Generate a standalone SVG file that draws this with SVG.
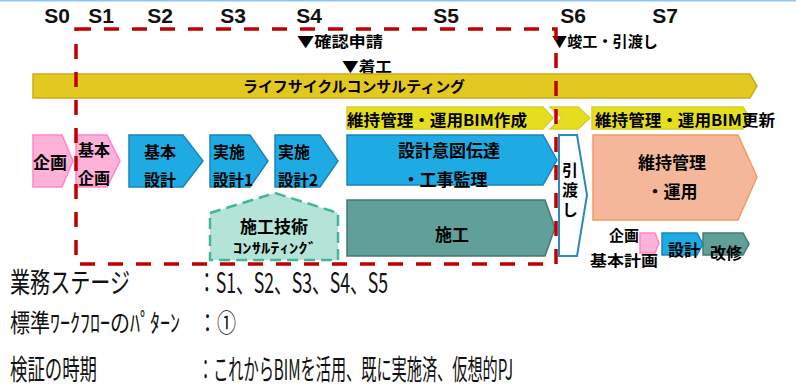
<svg xmlns="http://www.w3.org/2000/svg" width="796" height="390" viewBox="0 0 796 390">
<style>
  .st{font-family:"Liberation Sans",Arial,sans-serif;font-weight:bold;font-size:21px;fill:#111}
  .jb{font-family:"Noto Sans CJK JP",sans-serif;font-weight:bold;fill:#000}
  .jr{font-family:"Noto Sans CJK JP",sans-serif;font-weight:normal;fill:#111}
  .pink{fill:#ffb2d9;stroke:#ff86c6;stroke-width:1.5}
  .blue{fill:#1eaae2;stroke:#1d84b6;stroke-width:1.5}
  .teal{fill:#619f99;stroke:#427b75;stroke-width:1.5}
  .salmon{fill:#f5b799;stroke:#f29a66;stroke-width:1.5}
  .gold{fill:#e3c81f;stroke:#c9ad1a;stroke-width:1.5}
  .lemon{fill:#e5de1e;stroke:#d7cf2a;stroke-width:1.5}
</style>
<rect x="0" y="0" width="796" height="390" fill="#ffffff"/>
<line x1="0" y1="0.8" x2="796" y2="0.8" stroke="#8fc5ef" stroke-width="1.6"/>

<g id="stages">
  <text class="st" x="57" y="23" text-anchor="middle">S0</text>
  <text class="st" x="101" y="23" text-anchor="middle">S1</text>
  <text class="st" x="160" y="23" text-anchor="middle">S2</text>
  <text class="st" x="233" y="23" text-anchor="middle">S3</text>
  <text class="st" x="309" y="23" text-anchor="middle">S4</text>
  <text class="st" x="446" y="23" text-anchor="middle">S5</text>
  <text class="st" x="573" y="23" text-anchor="middle">S6</text>
  <text class="st" x="665" y="23" text-anchor="middle">S7</text>
</g>

<g id="milestones">
  <text class="jb" x="297" y="47" font-size="15" textLength="86" lengthAdjust="spacingAndGlyphs">▼確認申請</text>
  <text class="jb" x="342" y="72" font-size="15" textLength="50" lengthAdjust="spacingAndGlyphs">▼着工</text>
  <text class="jb" x="552" y="47" font-size="15" textLength="106" lengthAdjust="spacingAndGlyphs">▼竣工・引渡し</text>
</g>

<g id="lifecycle">
  <polygon class="gold" points="33,74 750,74 757,86 750,98 33,98"/>
  <text class="jb" x="354" y="92" font-size="15" text-anchor="middle" textLength="222" lengthAdjust="spacingAndGlyphs">ライフサイクルコンサルティング</text>
</g>

<g id="bim-create">
  <polygon class="lemon" points="347,107 543,107 553,118 543,129 347,129"/>
  <text class="jb" x="347" y="126" font-size="16" textLength="180" lengthAdjust="spacingAndGlyphs">維持管理・運用BIM作成</text>
</g>
<g id="bim-chevron">
  <polygon class="lemon" points="550,107 578,107 590,118 578,129 550,129 562,118"/>
</g>
<g id="bim-update">
  <polygon class="lemon" points="592,107 743,107 750,118 743,129 592,129"/>
  <text class="jb" x="595" y="126" font-size="16" textLength="180" lengthAdjust="spacingAndGlyphs">維持管理・運用BIM更新</text>
</g>

<g id="kikaku">
  <polygon class="pink" points="33,135 62,135 73,161 62,187 33,187"/>
  <text class="jb" x="50" y="169" font-size="17" text-anchor="middle">企画</text>
</g>
<g id="kihon-kikaku">
  <polygon class="pink" points="76,135 107,135 120,161 107,187 76,187"/>
  <text class="jb" x="94" y="156" font-size="16" text-anchor="middle">基本</text>
  <text class="jb" x="94" y="184" font-size="16" text-anchor="middle">企画</text>
</g>
<g id="kihon-sekkei">
  <polygon class="blue" points="129,135 183,135 203,161 183,187 129,187"/>
  <text class="jb" x="160" y="158" font-size="16" text-anchor="middle">基本</text>
  <text class="jb" x="160" y="186" font-size="16" text-anchor="middle">設計</text>
</g>
<g id="jisshi-sekkei1">
  <polygon class="blue" points="210,135 250,135 268,161 250,187 210,187"/>
  <text class="jb" x="213" y="158" font-size="16">実施</text>
  <text class="jb" x="213" y="186" font-size="16" textLength="40" lengthAdjust="spacingAndGlyphs">設計1</text>
</g>
<g id="jisshi-sekkei2">
  <polygon class="blue" points="275,135 320,135 338,161 320,187 275,187"/>
  <text class="jb" x="278" y="158" font-size="16">実施</text>
  <text class="jb" x="278" y="186" font-size="16" textLength="40" lengthAdjust="spacingAndGlyphs">設計2</text>
</g>
<g id="sekkei-ito">
  <polygon class="blue" points="347,135 543,135 557,160 543,185 347,185"/>
  <text class="jb" x="449" y="157" font-size="17" text-anchor="middle">設計意図伝達</text>
  <text class="jb" x="445" y="186" font-size="17" text-anchor="middle">・工事監理</text>
</g>
<g id="sekou-consulting">
  <polygon points="210,213 275,193 338,213 338,260 210,260" fill="#b3e4d7" stroke="#3fb896" stroke-width="2.5" stroke-dasharray="11 6"/>
  <text class="jb" x="274" y="233" font-size="17" text-anchor="middle">施工技術</text>
  <text class="jb" x="233" y="253" font-size="14" textLength="84" lengthAdjust="spacingAndGlyphs">ｺﾝｻﾙﾃｨﾝｸﾞ</text>
</g>
<g id="sekou">
  <polygon class="teal" points="347,200 545,200 555,228 545,256 347,256"/>
  <text class="jb" x="452" y="241" font-size="17" text-anchor="middle">施工</text>
</g>
<g id="hikiwatashi">
  <polygon points="559,135 577,135 587,195 577,256 559,256" fill="#ffffff" stroke="#2a8abb" stroke-width="2"/>
  <text class="jb" x="570" y="162" font-size="16" style="writing-mode:vertical-rl" letter-spacing="4">引渡し</text>
</g>
<g id="iji-kanri">
  <polygon class="salmon" points="593,135 738,135 757,177 738,220 593,220"/>
  <text class="jb" x="672" y="169" font-size="17" text-anchor="middle">維持管理</text>
  <text class="jb" x="672" y="198" font-size="17" text-anchor="middle">・運用</text>
</g>
<g id="small-kikaku">
  <polygon class="pink" points="640,233 655,233 659,243 655,253 640,253"/>
  <text class="jb" x="624" y="241" font-size="15" text-anchor="middle">企画</text>
  <text class="jb" x="624" y="266" font-size="15" text-anchor="middle" textLength="68" lengthAdjust="spacingAndGlyphs">基本計画</text>
</g>
<g id="small-sekkei">
  <polygon class="blue" points="662,233 697,233 703,244 697,255 662,255"/>
  <text class="jb" x="684" y="256" font-size="16" text-anchor="middle">設計</text>
</g>
<g id="small-kaishu">
  <polygon class="teal" points="703,233 743,233 749,244 743,255 703,255"/>
  <text class="jb" x="726" y="259" font-size="16" text-anchor="middle">改修</text>
</g>

<g id="connectors">
  <rect x="76" y="29" width="480" height="235" fill="none" stroke="#c00000" stroke-width="3.5" stroke-dasharray="15 13"/>
</g>

<g id="notes">
  <text class="jr" x="10" y="293" font-size="28" textLength="120" lengthAdjust="spacingAndGlyphs">業務ステージ</text>
  <text class="jr" x="198" y="293" font-size="28" textLength="190" lengthAdjust="spacingAndGlyphs">：S1、S2、S3、S4、S5</text>
  <text class="jr" font-size="25" transform="translate(10,332) scale(0.8,1)">標準ﾜｰｸﾌﾛｰのﾊﾟﾀｰﾝ</text>
  <text class="jr" x="198" y="332" font-size="25" textLength="38" lengthAdjust="spacingAndGlyphs">：①</text>
  <text class="jr" x="10" y="380" font-size="28" textLength="87" lengthAdjust="spacingAndGlyphs">検証の時期</text>
  <text class="jr" x="198" y="380" font-size="28" textLength="315" lengthAdjust="spacingAndGlyphs">：これからBIMを活用、既に実施済、仮想的PJ</text>
</g>
</svg>
